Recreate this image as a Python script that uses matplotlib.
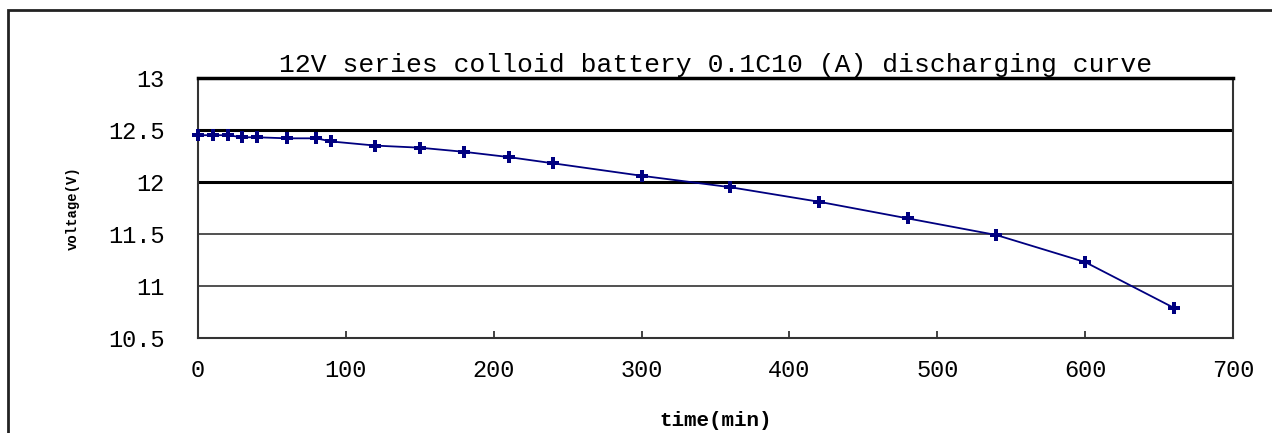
#!/usr/bin/env python3
"""12V colloid battery discharge curve."""
import matplotlib
matplotlib.use('Agg')
import matplotlib.pyplot as plt
from matplotlib.patches import Rectangle

# ---- data ----
time_min = [0, 10, 20, 30, 40, 60, 80, 90, 120, 150, 180, 210, 240,
            300, 360, 420, 480, 540, 600, 660]
voltage = [12.45, 12.45, 12.45, 12.43, 12.43, 12.42, 12.42, 12.39, 12.35, 12.33,
           12.29, 12.24, 12.18, 12.06, 11.95, 11.81, 11.65, 11.49, 11.23, 10.79]
x_ticks = [0, 100, 200, 300, 400, 500, 600, 700]
y_ticks = [10.5, 11, 11.5, 12, 12.5, 13]
y_tick_labels = ['10.5', '11', '11.5', '12', '12.5', '13']
title = "12V series colloid battery 0.1C10 (A) discharging curve"

MONO = 'Liberation Mono'
LINE = '#000080'

fig = plt.figure(figsize=(12.72, 4.33), dpi=100)
fig.patch.set_facecolor('white')

# outer chart frame (extends past right/bottom edge)
fig.patches.append(Rectangle((8 / 1272, -0.1), 1.1, 1 - 10 / 433 + 0.1,
                             transform=fig.transFigure, fill=False,
                             edgecolor='#222222', linewidth=2.0))

ax = fig.add_axes([198 / 1272, 1 - 338 / 433, 1035 / 1272, 260 / 433])
ax.set_xlim(0, 700)
ax.set_ylim(10.5, 13)

# horizontal grid - the two upper ones are drawn heavy in the original
for v in y_ticks[1:-1]:
    heavy = v >= 12
    ax.axhline(v, color='#000000' if heavy else '#333333',
               lw=2.2 if heavy else 1.2, zorder=1)

ax.plot(time_min, voltage, color=LINE, lw=1.3, marker='P', markersize=9,
        markeredgewidth=0, zorder=3, clip_on=False)

for s in ['left', 'right', 'bottom']:
    ax.spines[s].set_color('#333333')
    ax.spines[s].set_linewidth(1.5)
ax.spines['top'].set_color('#000000')
ax.spines['top'].set_linewidth(2.5)

ax.set_xticks(x_ticks)
ax.set_xticklabels([str(t) for t in x_ticks], fontfamily=MONO, fontsize=17)
ax.set_yticks(y_ticks)
ax.set_yticklabels(y_tick_labels, fontfamily=MONO, fontsize=17)
ax.tick_params(axis='x', direction='in', length=5, width=1.2, pad=15, color='#222222')
ax.tick_params(axis='y', length=0, pad=24)

ax.set_xlabel("time(min)", fontfamily=MONO, fontsize=15, fontweight='bold',
              labelpad=21)
ax.set_ylabel("voltage(V)", fontfamily=MONO, fontsize=10, fontweight='bold')
ax.yaxis.set_label_coords(-(198 - 80) / 1035, 0.5)
ax.text(0.5, 1.005, title, transform=ax.transAxes, ha='center', va='bottom',
        fontfamily=MONO, fontsize=19)

fig.savefig("out.png", dpi=100)
plt.close(fig)
